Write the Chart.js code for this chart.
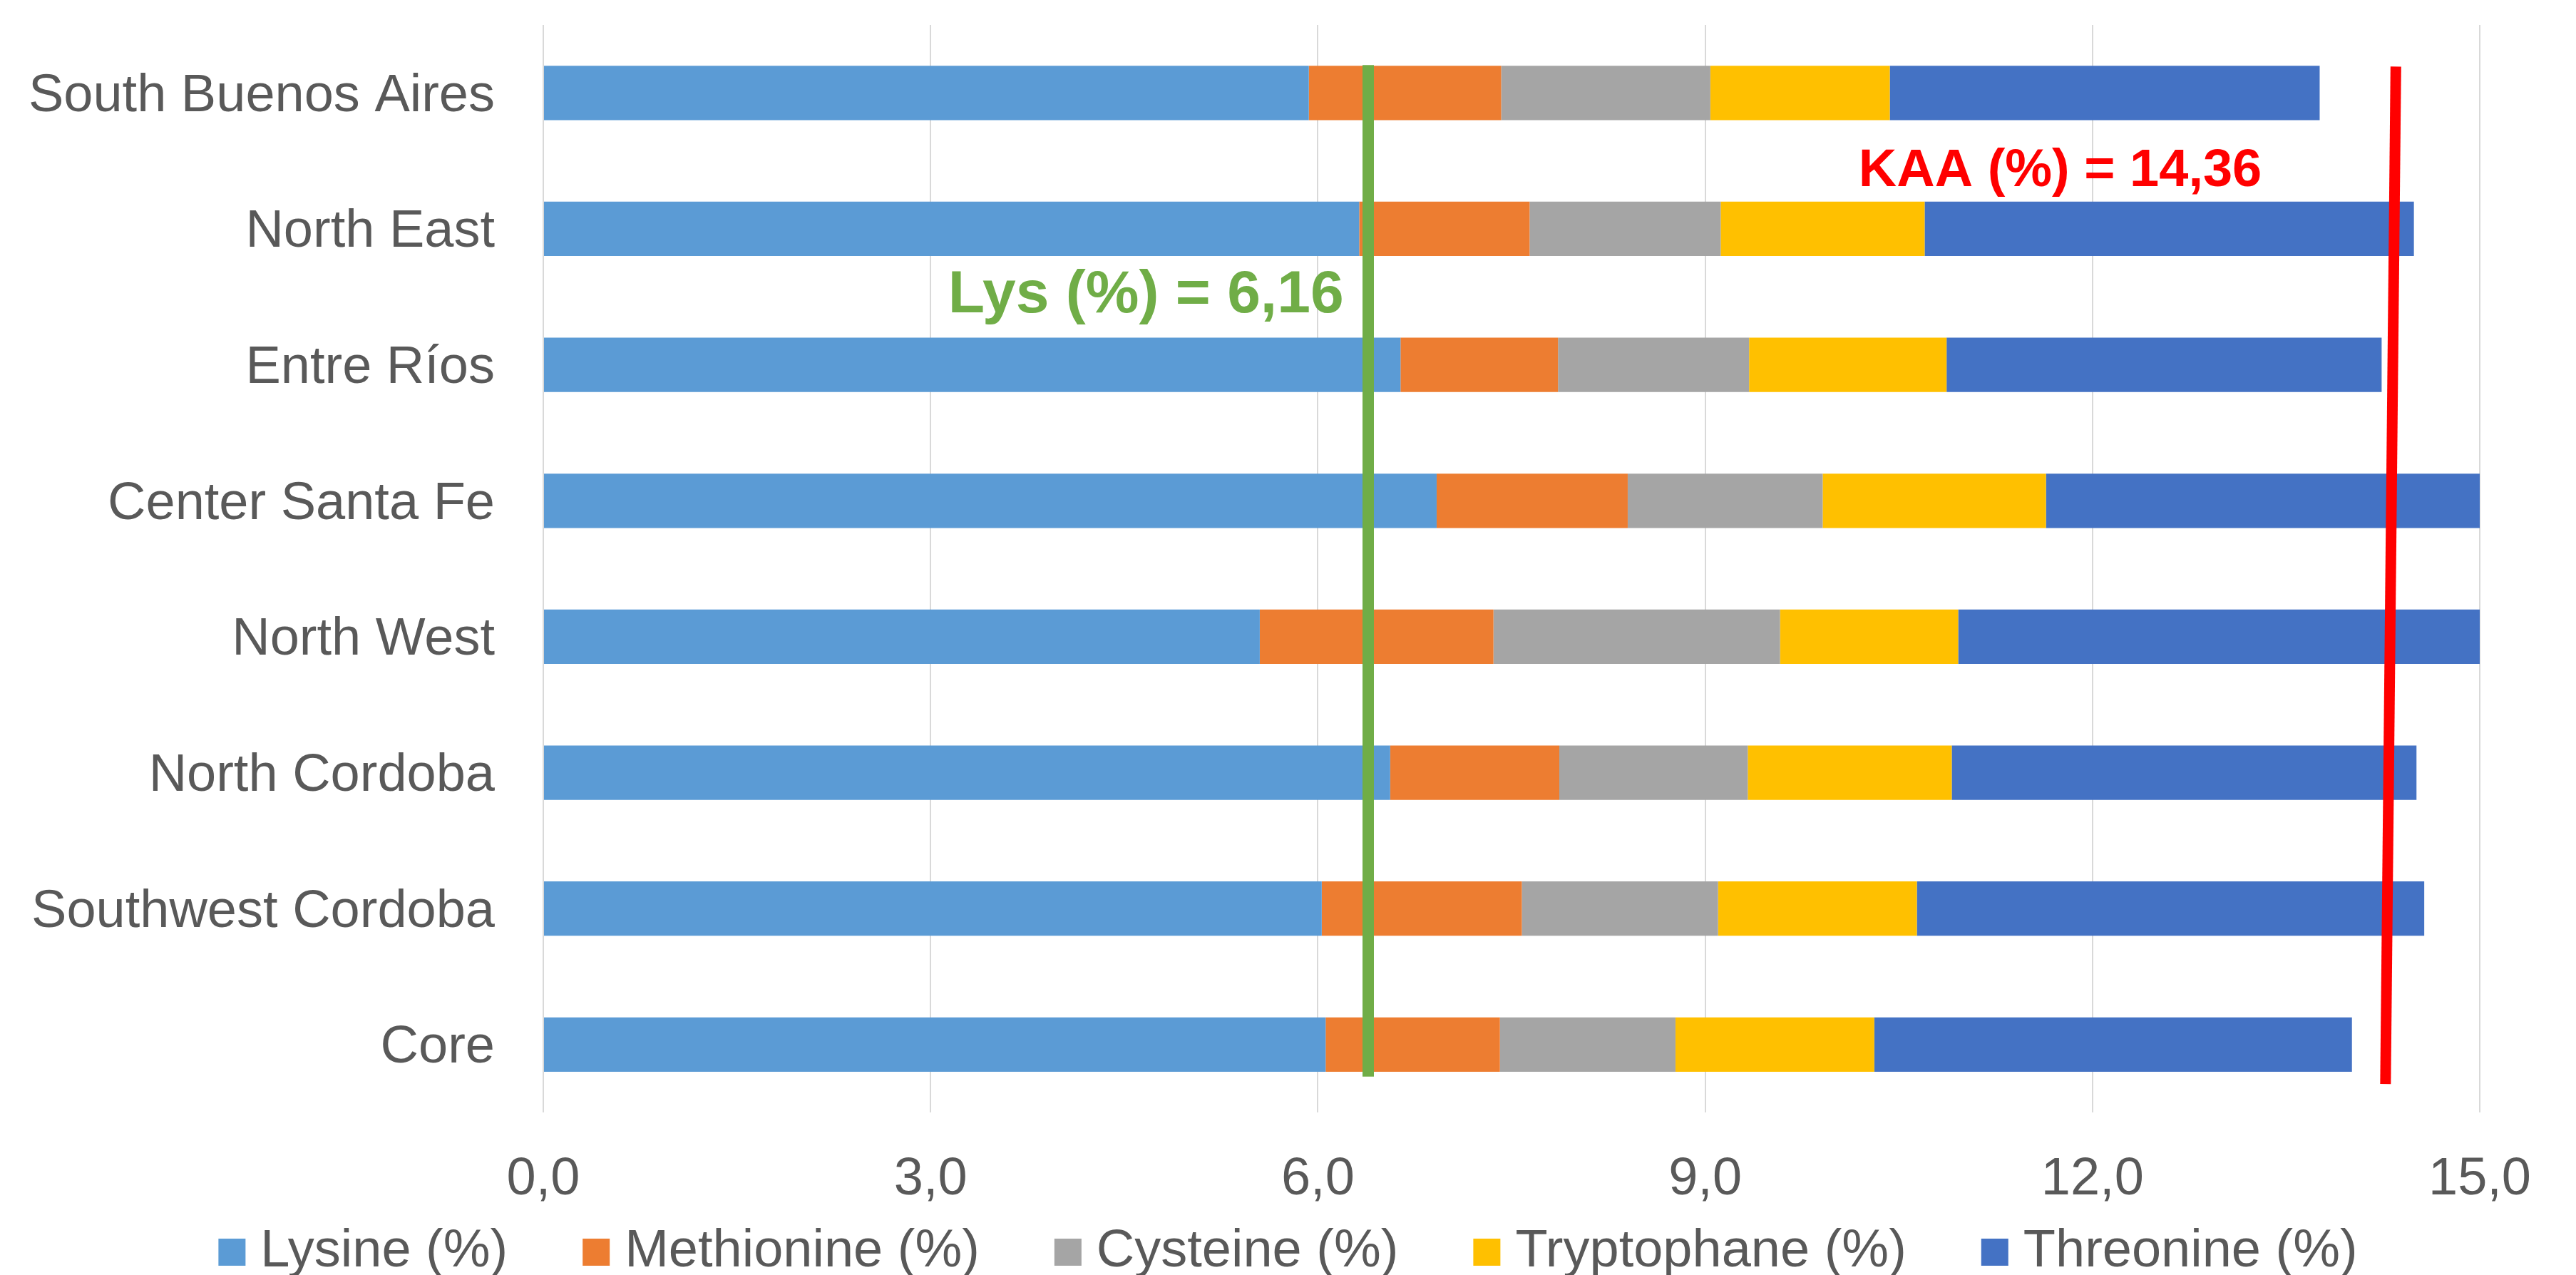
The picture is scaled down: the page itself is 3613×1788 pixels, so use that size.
<!DOCTYPE html>
<html>
<head>
<meta charset="utf-8">
<script src="https://cdn.jsdelivr.net/npm/chart.js@4"></script>
<style>
  html, body { margin: 0; padding: 0; background: #fff; }
  canvas { display: block; }
</style>
</head>
<body>
<canvas id="chart" width="3613" height="1788"></canvas>
<script>
const categories = ['South Buenos Aires', 'North East', 'Entre Ríos', 'Center Santa Fe', 'North West', 'North Cordoba', 'Southwest Cordoba', 'Core'];
const lysine = [5.93, 6.32, 6.64, 6.92, 5.55, 6.56, 6.03, 6.06];
const methionine = [1.49, 1.32, 1.22, 1.48, 1.81, 1.31, 1.55, 1.35];
const cysteine = [1.62, 1.48, 1.48, 1.51, 2.22, 1.46, 1.52, 1.36];
const tryptophane = [1.39, 1.58, 1.53, 1.73, 1.38, 1.58, 1.54, 1.54];
const threonine = [3.33, 3.79, 3.37, 3.60, 4.20, 3.60, 3.93, 3.70];
const seriesNames = ['Lysine (%)', 'Methionine (%)', 'Cysteine (%)', 'Tryptophane (%)', 'Threonine (%)'];
const xTickLabels = ['0,0', '3,0', '6,0', '9,0', '12,0', '15,0'];

// reference lines (x value, position along the category axis)
const lysLineX = [6.39, 6.39];
const lysLineY = [-0.205, 7.235];
const kaaLineX = [14.35, 14.27];
const kaaLineY = [-0.194, 7.29];
const lysLabel = 'Lys (%) = 6,16';
const kaaLabel = 'KAA (%) = 14,36';

const colors = ['#5B9BD5', '#ED7D31', '#A5A5A5', '#FFC000', '#4472C4'];
const font = "'Liberation Sans', Arial, sans-serif";

Chart.defaults.font.family = font;
Chart.defaults.color = '#595959';

const barSeries = [lysine, methionine, cysteine, tryptophane, threonine];
const datasets = barSeries.map((values, i) => ({
    type: 'bar',
    label: seriesNames[i],
    data: values,
    backgroundColor: colors[i],
    borderWidth: 0,
    barPercentage: 0.4,
    categoryPercentage: 1,
    grouped: false,
    stack: 'amino',
    yAxisID: 'y'
}));

function linePoints(xs, ys) {
    return xs.map((x, i) => ({ x: x, y: ys[i] }));
}

datasets.push({
    type: 'line',
    label: 'lys',
    data: linePoints(lysLineX, lysLineY),
    borderColor: '#70AD47',
    borderWidth: 16,
    pointRadius: 0,
    yAxisID: 'yLine',
    stack: 'lys',
    order: -1
});
datasets.push({
    type: 'line',
    label: 'kaa',
    data: linePoints(kaaLineX, kaaLineY),
    borderColor: '#FF0000',
    borderWidth: 15,
    pointRadius: 0,
    yAxisID: 'yLine',
    stack: 'kaa',
    order: -1
});

const annotationLabels = {
    id: 'annotationLabels',
    afterDatasetsDraw(chart) {
        const ctx = chart.ctx;
        const x = chart.scales.x;
        const y = chart.scales.yLine;
        ctx.save();
        ctx.textBaseline = 'middle';
        ctx.font = 'bold 84px ' + font;
        ctx.fillStyle = '#70AD47';
        ctx.textAlign = 'right';
        ctx.fillText(lysLabel, x.getPixelForValue(6.2), y.getPixelForValue(1.49));
        ctx.font = 'bold 74px ' + font;
        ctx.fillStyle = '#FF0000';
        ctx.textAlign = 'center';
        ctx.fillText(kaaLabel, x.getPixelForValue(11.75), y.getPixelForValue(0.578));
        ctx.restore();
    }
};

// legend laid out like the spreadsheet one: small square, short gap, wide spacing
const bottomLegend = {
    id: 'bottomLegend',
    afterDraw(chart) {
        const ctx = chart.ctx;
        const box = 38, gap = 21, spacing = 105;
        const cy = chart.height - 32;
        ctx.save();
        ctx.font = '74px ' + font;
        ctx.textBaseline = 'middle';
        ctx.textAlign = 'left';
        const widths = seriesNames.map(n => box + gap + ctx.measureText(n).width);
        const total = widths.reduce((a, b) => a + b, 0) + spacing * (widths.length - 1);
        let x = (chart.width - total) / 2;
        seriesNames.forEach((name, i) => {
            ctx.fillStyle = colors[i];
            ctx.fillRect(x, cy - box / 2, box, box);
            ctx.fillStyle = '#595959';
            ctx.fillText(name, x + box + gap, cy);
            x += widths[i] + spacing;
        });
        ctx.restore();
    }
};

new Chart(document.getElementById('chart').getContext('2d'), {
    data: {
        labels: categories,
        datasets: datasets
    },
    options: {
        indexAxis: 'y',
        responsive: false,
        animation: false,
        devicePixelRatio: 1,
        layout: {
            padding: { top: 35, right: 135, bottom: 39, left: 0 }
        },
        scales: {
            x: {
                type: 'linear',
                stacked: true,
                min: 0,
                max: 15,
                ticks: {
                    stepSize: 3,
                    padding: 50,
                    font: { size: 74 },
                    color: '#595959',
                    callback: (value, index) => xTickLabels[index]
                },
                grid: { color: '#D9D9D9', lineWidth: 2, drawTicks: false },
                border: { display: false },
                afterFit: scale => { scale.paddingLeft = 0; scale.paddingRight = 0; }
            },
            y: {
                type: 'category',
                stacked: true,
                ticks: {
                    padding: 68,
                    labelOffset: 5,
                    font: { size: 74 },
                    color: '#595959'
                },
                grid: { display: false, drawTicks: false },
                border: { display: false },
                afterFit: scale => {
                    scale.width = 762;
                    scale.paddingTop = 0;
                    scale.paddingBottom = 0;
                }
            },
            yLine: {
                type: 'linear',
                display: false,
                min: -0.5,
                max: 7.5,
                reverse: true
            }
        },
        plugins: {
            legend: { display: false },
            tooltip: { enabled: false }
        }
    },
    plugins: [annotationLabels, bottomLegend]
});
</script>
</body>
</html>
